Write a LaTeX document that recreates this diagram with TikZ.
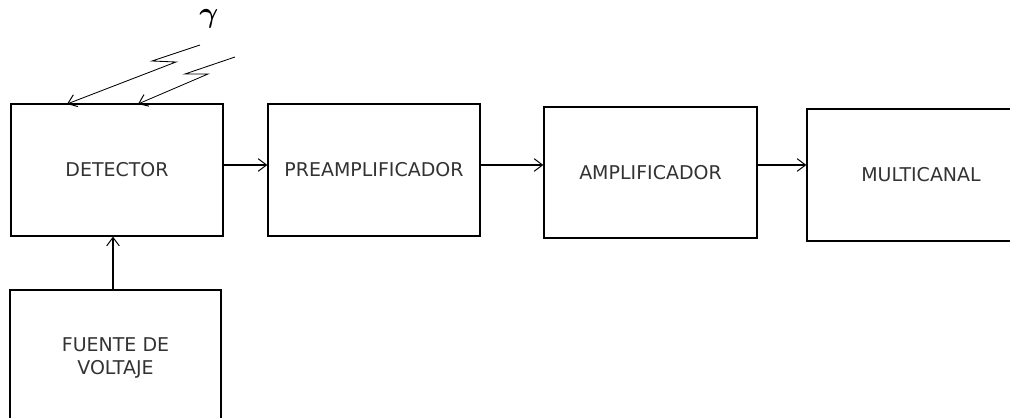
\documentclass[tikz,border=0pt]{standalone}
\usepackage{fontspec}
\setmainfont{DejaVu Sans}
\usetikzlibrary{arrows.meta}
\tikzset{
  blk/.style={draw, line width=0.9pt, rectangle, text=black!80, font=\fontsize{13.5}{16.5}\selectfont, align=center},
  ray/.style={line width=0.6pt},
  >={Straight Barb[length=6pt,width=9pt,line width=0.7pt]}
}
\begin{document}
\begin{tikzpicture}[x=0.025cm, y=-0.025cm]
      \useasboundingbox (0,0) rectangle (1010,418);
      \clip (0,0) rectangle (1010,418);
      \node[blk, minimum width=5.3cm, minimum height=3.3cm] (det) at (117,170) {DETECTOR};
      \node[blk, minimum width=5.3cm, minimum height=3.3cm] (preamp) at (374,170) {PREAMPLIFICADOR};
      \node[blk, minimum width=5.325cm, minimum height=3.275cm] (amp) at (650.5,172.5) {AMPLIFICADOR};
      \node[blk, minimum width=5.7cm, minimum height=3.3cm] (multi) at (921,175) {MULTICANAL};
      \node[blk, minimum width=5.275cm, minimum height=3.4cm] (fuente) at (115.5,358) {FUENTE DE\\VOLTAJE};
      \node[font=\huge\boldmath] (gamma) at (209,19) {$\gamma$};
      \coordinate (r1a) at (200,45);
      \coordinate (r1b) at (152,61);
      \coordinate (r1c) at (176,62);
      \coordinate (r2a) at (235,57);
      \coordinate (r2b) at (185,74);
      \coordinate (r2c) at (208,74);
      \coordinate (r1) at (67,104);
      \coordinate (r2) at (138,104);
      \begin{scope}[->, line width=0.9pt]
        \draw (det.east |- 0,165) to (preamp.west |- 0,165);
        \draw (preamp.east |- 0,165) to (amp.west |- 0,165);
        \draw (amp.east |- 0,165) to (multi.west |- 0,165);
        \draw (fuente.north -| 113,0) to (det.south -| 113,0);
        \draw[ray] (r1a) -- (r1b) -- (r1c) -- (r1);
        \draw[ray] (r2a) -- (r2b) -- (r2c) -- (r2);
      \end{scope}
    \end{tikzpicture}
\end{document}
